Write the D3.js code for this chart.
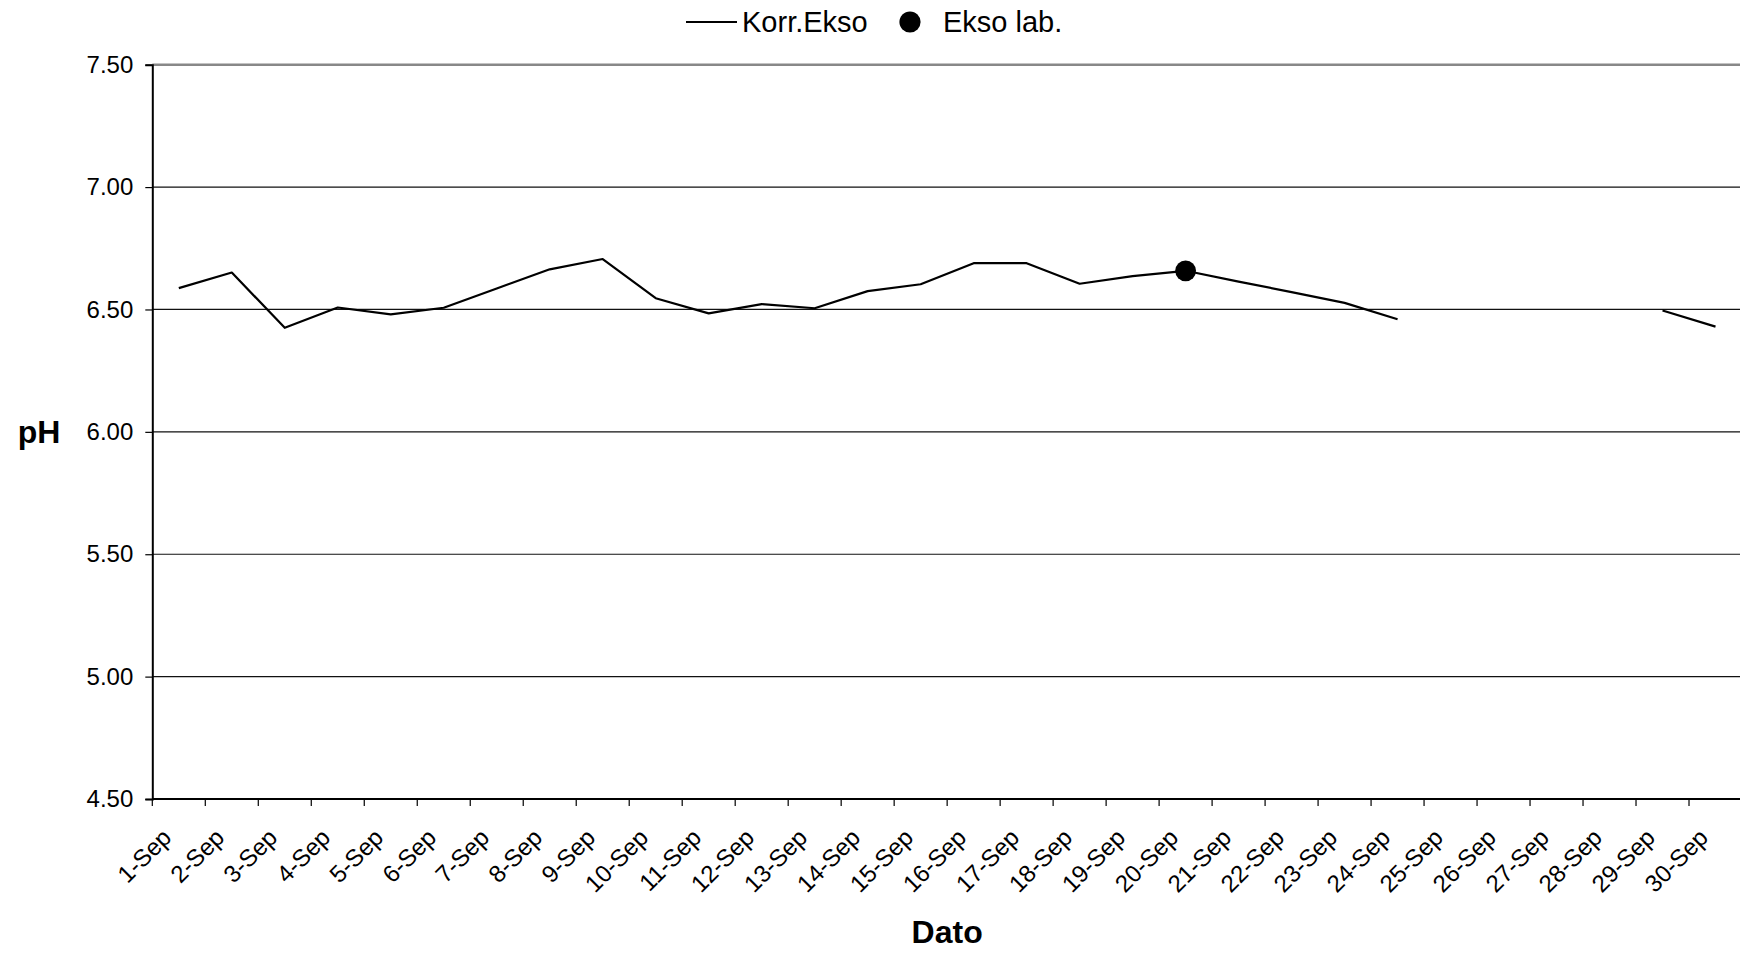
<!DOCTYPE html>
<html>
<head>
<meta charset="utf-8">
<script src="https://cdn.jsdelivr.net/npm/d3@7"></script>
<style>
  html, body { margin: 0; padding: 0; background: #fff; }
  svg { display: block; font-family: "Liberation Sans", Arial, sans-serif; }
</style>
</head>
<body>
<svg id="chart" width="1740" height="953"></svg>
<script>
// ---- data ----
const categories = ["1-Sep","2-Sep","3-Sep","4-Sep","5-Sep","6-Sep","7-Sep","8-Sep","9-Sep","10-Sep",
  "11-Sep","12-Sep","13-Sep","14-Sep","15-Sep","16-Sep","17-Sep","18-Sep","19-Sep","20-Sep",
  "21-Sep","22-Sep","23-Sep","24-Sep","25-Sep","26-Sep","27-Sep","28-Sep","29-Sep","30-Sep"];
const korrEkso = [6.587, 6.651, 6.425, 6.508, 6.480, 6.507, 6.586, 6.664, 6.706, 6.546,
  6.484, 6.522, 6.505, 6.575, 6.603, 6.689, 6.689, 6.605, 6.636, 6.658,
  6.614, 6.571, 6.527, 6.460, null, null, null, null, 6.496, 6.430];
const eksoLab = [null, null, null, null, null, null, null, null, null, null,
  null, null, null, null, null, null, null, null, null, 6.658,
  null, null, null, null, null, null, null, null, null, null];
const yTicks = [4.5, 5.0, 5.5, 6.0, 6.5, 7.0, 7.5];
const seriesNames = ["Korr.Ekso", "Ekso lab."];
const xTitle = "Dato";
const yTitle = "pH";

(function () {
// ---- layout ----
const svg = d3.select("#chart");
const mLeft = 152.3, mRight = 1742, mTop = 64.7, mBottom = 799;

const x = d3.scaleBand().domain(categories).range([mLeft, mRight]).paddingInner(0).paddingOuter(0);
const y = d3.scaleLinear().domain([4.5, 7.5]).range([mBottom, mTop]);

// gridlines
svg.append("g").selectAll("line").data(yTicks.filter(v => v > 4.5)).join("line")
  .attr("x1", mLeft).attr("x2", mRight)
  .attr("y1", d => y(d)).attr("y2", d => y(d))
  .attr("stroke", d => d === 7.5 ? "#888" : "#111")
  .attr("stroke-width", d => d === 7.5 ? 2.5 : 1.2);

// y axis
const yAxis = svg.append("g").attr("transform", `translate(${mLeft},0)`)
  .call(d3.axisLeft(y).tickValues(yTicks).tickFormat(d3.format(".2f")).tickSize(7).tickPadding(12));
yAxis.select(".domain").attr("stroke", "#000").attr("stroke-width", 2);
yAxis.selectAll(".tick line").attr("stroke", "#000").attr("stroke-width", 1.2);
yAxis.selectAll(".tick text").attr("font-size", 24).attr("fill", "#000")
  .attr("font-family", "Liberation Sans, Arial, sans-serif");

// x axis
const xAxis = svg.append("g").attr("transform", `translate(0,${mBottom})`)
  .call(d3.axisBottom(x).tickSize(0).tickPadding(0));
xAxis.select(".domain").remove();
xAxis.selectAll(".tick text")
  .attr("font-size", 24).attr("fill", "#000")
  .attr("font-family", "Liberation Sans, Arial, sans-serif")
  .attr("text-anchor", "end")
  .attr("y", 0).attr("dy", 0)
  .attr("transform", "translate(-6,40) rotate(-45)");
svg.append("line").attr("x1", mLeft).attr("x2", mRight).attr("y1", mBottom).attr("y2", mBottom)
  .attr("stroke", "#000").attr("stroke-width", 2);
svg.append("g").selectAll("line").data(categories).join("line")
  .attr("x1", d => x(d)).attr("x2", d => x(d))
  .attr("y1", mBottom).attr("y2", mBottom + 7)
  .attr("stroke", "#000").attr("stroke-width", 1.2);

// line series
const line = d3.line()
  .defined(d => d.v != null)
  .x(d => x(d.c) + x.bandwidth() / 2)
  .y(d => y(d.v));
svg.append("path")
  .datum(categories.map((c, i) => ({c, v: korrEkso[i]})))
  .attr("d", line).attr("fill", "none").attr("stroke", "#000").attr("stroke-width", 2.2)
  .attr("stroke-linejoin", "round");

// markers
svg.append("g").selectAll("circle")
  .data(categories.map((c, i) => ({c, v: eksoLab[i]})).filter(d => d.v != null))
  .join("circle")
  .attr("cx", d => x(d.c) + x.bandwidth() / 2).attr("cy", d => y(d.v))
  .attr("r", 10.4).attr("fill", "#000");

// axis titles
svg.append("text").attr("x", (mLeft + mRight) / 2).attr("y", 943)
  .attr("text-anchor", "middle").attr("font-size", 32).attr("font-weight", "bold").text(xTitle);
svg.append("text").attr("x", 39).attr("y", 443)
  .attr("text-anchor", "middle").attr("font-size", 32).attr("font-weight", "bold").text(yTitle);

// legend
const lg = svg.append("g");
lg.append("line").attr("x1", 686).attr("x2", 737).attr("y1", 22).attr("y2", 22)
  .attr("stroke", "#000").attr("stroke-width", 2.2);
lg.append("text").attr("x", 742).attr("y", 32).attr("font-size", 29).text(seriesNames[0]);
lg.append("circle").attr("cx", 910).attr("cy", 22).attr("r", 10.6).attr("fill", "#000");
lg.append("text").attr("x", 943).attr("y", 32).attr("font-size", 29).text(seriesNames[1]);
})();
</script>
</body>
</html>
